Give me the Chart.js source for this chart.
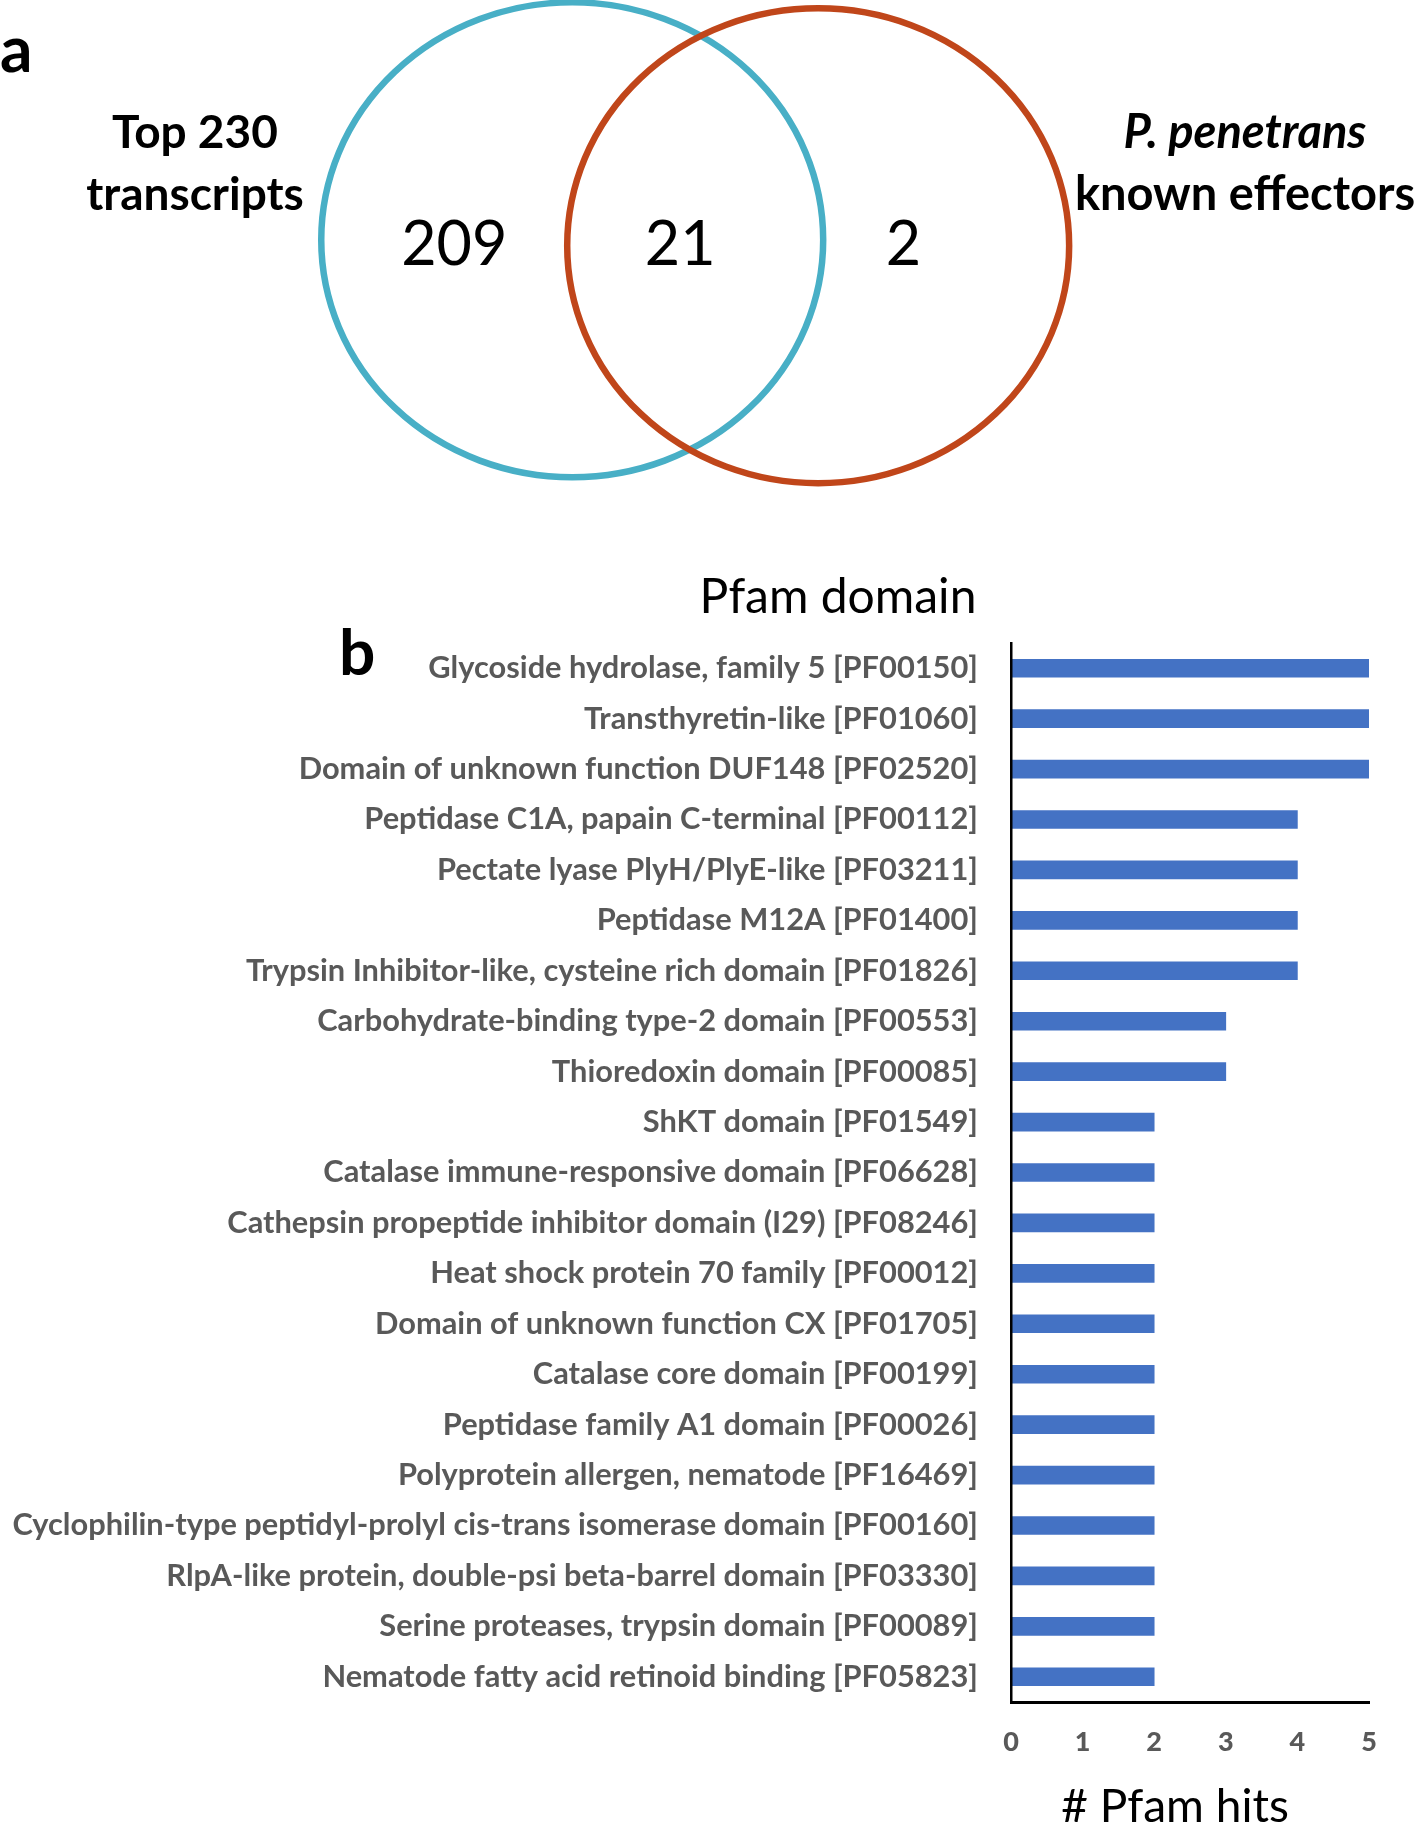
<!DOCTYPE html>
<html>
<head>
<meta charset="utf-8">
<script src="https://cdn.jsdelivr.net/npm/chart.js@4.4.0/dist/chart.umd.min.js"></script>
<style>
html,body{margin:0;padding:0;background:#fff;}
body{width:1418px;height:1826px;position:relative;overflow:hidden;font-family:Lato,'Open Sans',sans-serif;}
.t{position:absolute;white-space:nowrap;line-height:1.2;color:#000;}
.c{text-align:center;width:400px;}
#venn{position:absolute;left:0;top:0;}
#bars{position:absolute;left:0;top:540px;}
</style>
</head>
<body>
<canvas id="venn" width="1418" height="520"></canvas>
<canvas id="bars" width="1418" height="1286"></canvas>

<div class="t" style="left:0;top:10px;font-size:64px;font-weight:700;">a</div>
<div class="t c" style="left:-5px;top:100px;font-size:46px;font-weight:700;line-height:62px;">Top 230<br>transcripts</div>
<div class="t c" style="left:1045px;top:99px;font-size:47px;font-weight:700;line-height:62px;"><i>P. penetrans</i><br>known effectors</div>
<div class="t c" style="left:638px;top:566px;font-size:48px;font-weight:400;">Pfam domain</div>
<div class="t" style="left:339px;top:613px;font-size:64px;font-weight:700;">b</div>
<div class="t c" style="left:975px;top:1777px;font-size:46px;font-weight:400;"># Pfam hits</div>

<script>
// ---------- Data ----------
const vennSetNames = ['Top 230 transcripts', 'P. penetrans known effectors'];
const vennRegionNames = ['Top 230 only', 'Both', 'Known effectors only'];
const vennCounts = [209, 21, 2];

const domains = [
  'Glycoside hydrolase, family 5 [PF00150]',
  'Transthyretin-like [PF01060]',
  'Domain of unknown function DUF148 [PF02520]',
  'Peptidase C1A, papain C-terminal [PF00112]',
  'Pectate lyase PlyH/PlyE-like [PF03211]',
  'Peptidase M12A [PF01400]',
  'Trypsin Inhibitor-like, cysteine rich domain [PF01826]',
  'Carbohydrate-binding type-2 domain [PF00553]',
  'Thioredoxin domain [PF00085]',
  'ShKT domain [PF01549]',
  'Catalase immune-responsive domain [PF06628]',
  'Cathepsin propeptide inhibitor domain (I29) [PF08246]',
  'Heat shock protein 70 family [PF00012]',
  'Domain of unknown function CX [PF01705]',
  'Catalase core domain [PF00199]',
  'Peptidase family A1 domain [PF00026]',
  'Polyprotein allergen, nematode [PF16469]',
  'Cyclophilin-type peptidyl-prolyl cis-trans isomerase domain [PF00160]',
  'RlpA-like protein, double-psi beta-barrel domain [PF03330]',
  'Serine proteases, trypsin domain [PF00089]',
  'Nematode fatty acid retinoid binding [PF05823]'
];
const pfamHits = [5, 5, 5, 4, 4, 4, 4, 3, 3, 2, 2, 2, 2, 2, 2, 2, 2, 2, 2, 2, 2];
const xTickLabels = ['0', '1', '2', '3', '4', '5'];

// ---------- Venn layout (geometry, in scale units) ----------
const vennCircles = [
  { cx: 0.0,  cy: 0.0,    r: 1, color: '#48AFC6' },
  { cx: 0.98, cy: -0.025, r: 1, color: '#C0461A' }
];
const vennRegionX = [-0.47, 0.43, 1.32];
const vennRegionY = -0.015;
const vennNumSize = 61;

const vennPlugin = {
  id: 'vennDraw',
  afterDatasetsDraw(chart) {
    const { ctx } = chart;
    const xs = chart.scales.x, ys = chart.scales.y;
    vennCircles.forEach(c => {
      const px = xs.getPixelForValue(c.cx), py = ys.getPixelForValue(c.cy);
      const rx = Math.abs(xs.getPixelForValue(c.cx + c.r) - px);
      const ry = Math.abs(ys.getPixelForValue(c.cy + c.r) - py);
      ctx.save();
      ctx.beginPath();
      ctx.ellipse(px, py, rx, ry, 0, 0, Math.PI * 2);
      ctx.lineWidth = 6.5;
      ctx.strokeStyle = c.color;
      ctx.stroke();
      ctx.restore();
    });
    const meta = chart.getDatasetMeta(0);
    ctx.save();
    ctx.fillStyle = '#000';
    ctx.font = '400 ' + vennNumSize + 'px Lato';
    ctx.textAlign = 'center';
    ctx.textBaseline = 'alphabetic';
    meta.data.forEach((pt, i) => {
      ctx.fillText(String(vennCounts[i]), pt.x, pt.y + 0.358 * vennNumSize);
    });
    ctx.restore();
  }
};

new Chart(document.getElementById('venn'), {
  type: 'scatter',
  data: {
    labels: vennRegionNames,
    datasets: [{
      label: vennSetNames.join(' / '),
      data: vennCounts.map((v, i) => ({ x: vennRegionX[i], y: vennRegionY })),
      pointRadius: 0
    }]
  },
  options: {
    responsive: false, animation: false, devicePixelRatio: 1,
    layout: { padding: 0 },
    plugins: { legend: { display: false }, tooltip: { enabled: false } },
    scales: {
      x: { type: 'linear', display: false, min: -2.28, max: 3.37 },
      y: { type: 'linear', display: false, min: -1.18, max: 1.01 }
    }
  },
  plugins: [vennPlugin]
});

// ---------- Bar chart ----------
const mctx = document.createElement('canvas').getContext('2d');
mctx.font = 'bold 100px Lato';
const longest = Math.max(...domains.map(d => mctx.measureText(d).width));
const labelSize = Math.min(34, 100 * 966 / longest);

new Chart(document.getElementById('bars'), {
  type: 'bar',
  data: {
    labels: domains,
    datasets: [{ label: '# Pfam hits', data: pfamHits, backgroundColor: '#4472C4', barThickness: 18, borderWidth: 0 }]
  },
  options: {
    indexAxis: 'y', responsive: false, animation: false, devicePixelRatio: 1,
    layout: { padding: { top: 103, right: 49, left: 0, bottom: 0 } },
    plugins: { legend: { display: false }, tooltip: { enabled: false } },
    scales: {
      y: {
        grid: { display: false, drawTicks: false },
        border: { display: true, color: '#000', width: 2.5, z: 1 },
        ticks: { autoSkip: false, padding: 33, color: '#595959', font: { family: 'Lato', weight: 'bold', size: labelSize } },
        afterFit(s) { s.width = 1011; }
      },
      x: {
        min: 0, max: 5,
        grid: { display: false, drawTicks: false },
        border: { display: true, color: '#000', width: 3, z: 1 },
        ticks: {
          stepSize: 1, padding: 24, color: '#595959',
          font: { family: 'Lato', weight: '900', size: 27 },
          callback: (v, i) => xTickLabels[i]
        },
        afterFit(s) { s.height = 124; }
      }
    }
  }
});
</script>
</body>
</html>
